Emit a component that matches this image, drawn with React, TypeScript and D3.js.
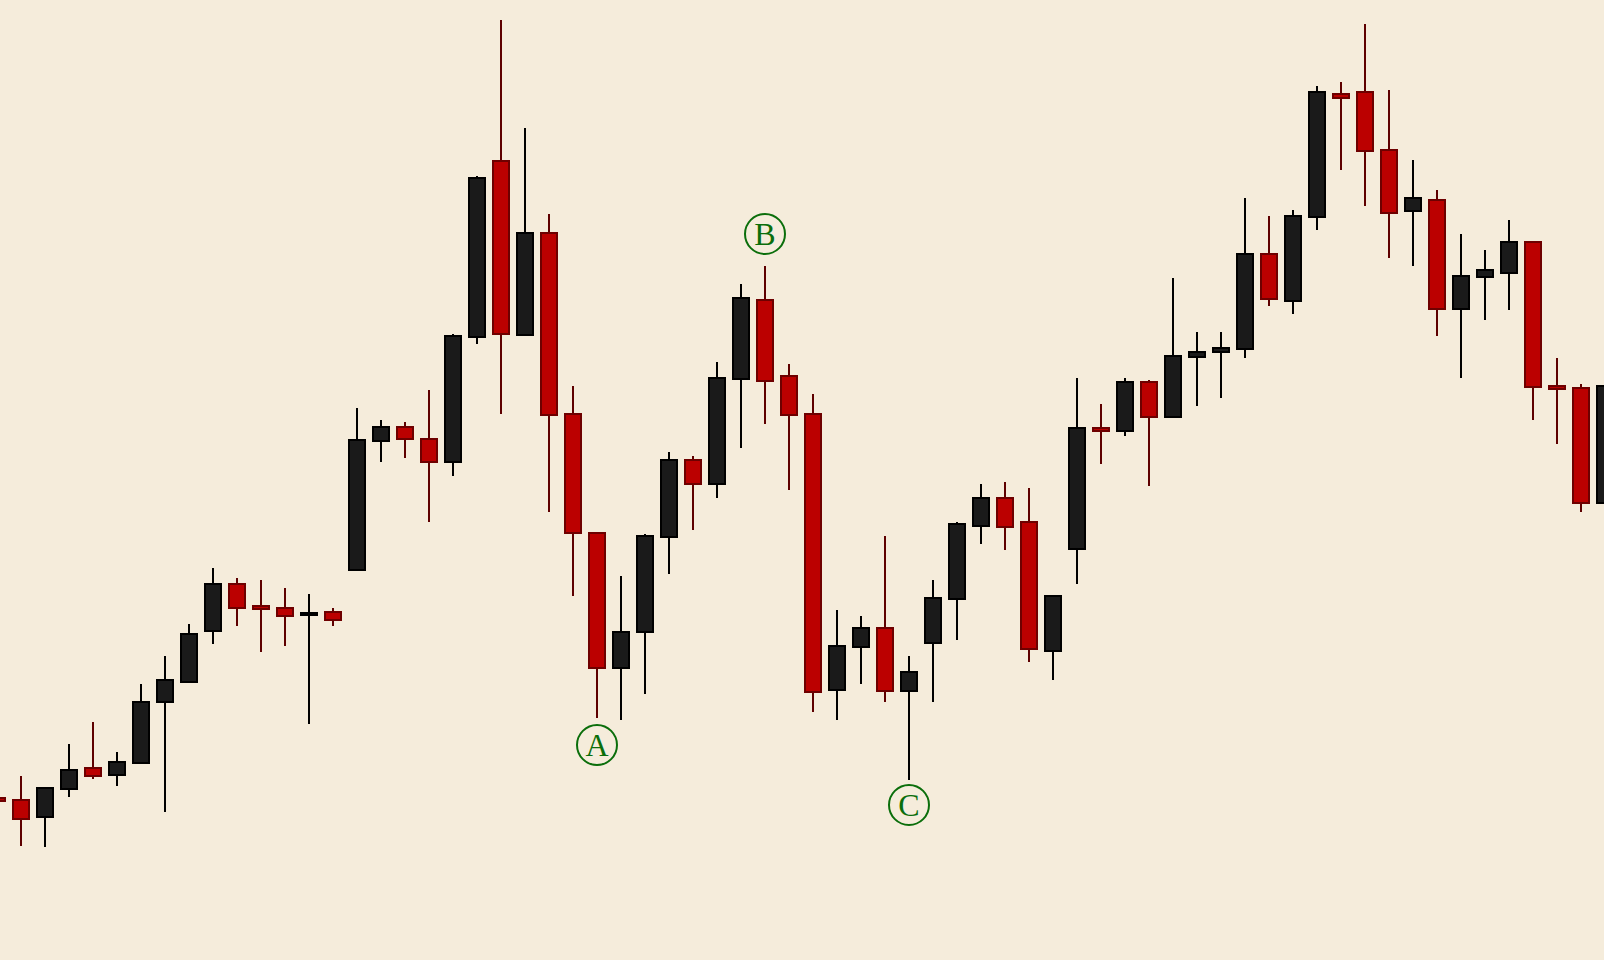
import React from "react";
import * as d3 from "d3";

const WIDTH = 1604;
const HEIGHT = 960;

// OHLC prices, one entry per candle (index = session)
const opens = [16.2, 16.0, 14.3, 17.1, 19.2, 18.5, 19.7, 25.8, 27.8, 32.9, 37.6, 35.4, 35.2, 34.5, 34.8, 39.0, 51.9, 53.3, 52.1, 49.8, 62.3, 79.9, 62.5, 72.7, 54.6, 42.7, 29.2, 32.8, 42.3, 50.0, 47.6, 58.1, 66.0, 58.4, 54.6, 27.0, 31.3, 33.2, 26.9, 31.7, 36.1, 43.4, 46.2, 43.8, 30.9, 41.1, 53.2, 52.9, 57.8, 54.3, 60.3, 60.8, 61.1, 70.6, 65.9, 74.3, 86.6, 86.8, 81.0, 74.9, 76.0, 65.1, 68.3, 68.7, 71.8, 57.4, 57.2, 45.7];
const highs = [16.4, 18.4, 17.3, 21.6, 23.8, 20.8, 27.6, 30.4, 33.6, 39.2, 38.2, 38.0, 37.2, 36.6, 35.2, 55.2, 54.0, 53.8, 57.0, 62.6, 78.4, 94.0, 83.2, 74.6, 57.4, 42.7, 38.4, 42.6, 50.8, 50.4, 59.8, 67.6, 69.4, 59.6, 56.6, 35.0, 34.4, 42.4, 30.4, 38.0, 43.8, 47.6, 47.8, 47.2, 36.4, 58.2, 55.6, 58.2, 58.0, 68.2, 62.8, 62.8, 76.2, 74.4, 75.0, 87.4, 87.8, 93.6, 87.0, 80.0, 77.0, 72.6, 71.0, 74.0, 71.8, 60.2, 57.6, 57.4];
const lows = [15.7, 11.4, 11.3, 16.3, 18.1, 17.4, 19.7, 14.8, 27.8, 31.6, 33.4, 30.8, 31.4, 23.6, 33.4, 39.0, 49.8, 50.2, 43.8, 48.4, 61.6, 54.6, 62.5, 44.8, 36.4, 24.2, 24.0, 26.6, 38.6, 43.0, 46.2, 51.2, 53.6, 47.0, 24.8, 24.0, 27.6, 25.8, 18.0, 25.8, 32.0, 41.6, 41.0, 29.8, 28.0, 37.6, 49.6, 52.4, 47.4, 54.3, 55.4, 56.2, 60.2, 65.4, 64.6, 73.0, 79.0, 75.4, 70.2, 69.4, 62.4, 58.2, 64.0, 65.0, 54.0, 51.6, 44.8, 45.7];
const closes = [15.9, 14.1, 17.2, 19.0, 18.4, 19.8, 25.8, 28.0, 32.6, 37.6, 35.2, 35.1, 34.4, 34.7, 34.0, 52.0, 53.3, 52.1, 49.8, 62.4, 78.2, 62.6, 72.7, 54.5, 42.7, 29.2, 32.8, 42.4, 50.0, 47.6, 58.2, 66.2, 57.9, 54.5, 26.8, 31.4, 33.2, 26.9, 28.8, 36.2, 43.6, 46.2, 43.3, 31.1, 36.4, 53.2, 52.9, 57.8, 54.3, 60.4, 60.8, 61.2, 70.6, 66.1, 74.4, 86.8, 86.2, 80.9, 74.7, 76.2, 65.1, 68.4, 69.0, 71.8, 57.3, 57.1, 45.7, 57.4];

// Wave labels: letter, candle index, price level of the circle centre
const labelTexts = ["A", "B", "C"];
const labelIndex = [25, 32, 38];
const labelPrice = [21.5, 72.6, 15.5];

const BG = "#f5ecdb";
const UP_FILL = "#1a1a1a";
const UP_STROKE = "#000000";
const DOWN_FILL = "#bb0000";
const DOWN_STROKE = "#6e0000";
const DOWN_WICK = "#5e0000";
const LABEL_COLOR = "#0b6e0b";

export default function App() {
  const n = opens.length;
  const x = d3.scaleLinear().domain([0, n - 1]).range([-3, -3 + 24 * (n - 1)]);
  const y = d3.scaleLinear().domain([0, 96]).range([HEIGHT, 0]);
  const bodyW = 16;

  const candles = d3.range(n).map((i) => {
    const o = opens[i];
    const c = closes[i];
    const up = c >= o;
    const top = y(Math.max(o, c));
    const bot = y(Math.min(o, c));
    return { i, up, cx: x(i), top, h: Math.max(bot - top, 2), hy: y(highs[i]), ly: y(lows[i]) };
  });

  return (
    <div style={{ position: "fixed", left: 0, top: 0, width: WIDTH, height: HEIGHT }}>
      <svg width={WIDTH} height={HEIGHT} style={{ display: "block", background: BG }}>
        <rect x={0} y={0} width={WIDTH} height={HEIGHT} fill={BG} />
        <g>
          {candles.map((d) => (
            <g key={d.i}>
              <line
                x1={d.cx}
                x2={d.cx}
                y1={d.hy}
                y2={d.ly}
                stroke={d.up ? UP_STROKE : DOWN_WICK}
                strokeWidth={2}
              />
              <rect
                x={d.cx - bodyW / 2}
                y={d.top}
                width={bodyW}
                height={d.h}
                fill={d.up ? UP_FILL : DOWN_FILL}
                stroke={d.up ? UP_STROKE : DOWN_STROKE}
                strokeWidth={2}
              />
            </g>
          ))}
        </g>
        <g>
          {labelTexts.map((t, k) => {
            const cx = x(labelIndex[k]);
            const cy = y(labelPrice[k]);
            return (
              <g key={t}>
                <circle cx={cx} cy={cy} r={20} fill="none" stroke={LABEL_COLOR} strokeWidth={2} />
                <text
                  x={cx}
                  y={cy + 10.5}
                  textAnchor="middle"
                  fontFamily="'Liberation Serif', 'DejaVu Serif', serif"
                  fontSize={32}
                  fill={LABEL_COLOR}
                >
                  {t}
                </text>
              </g>
            );
          })}
        </g>
      </svg>
    </div>
  );
}
